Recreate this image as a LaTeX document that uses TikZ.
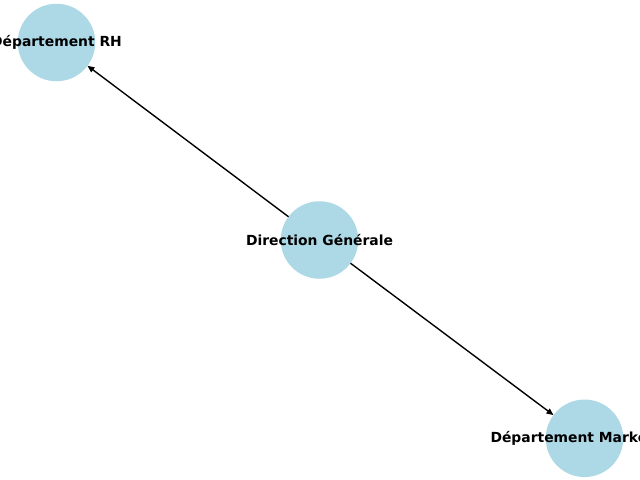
\documentclass[tikz,border=0pt]{standalone}
\usepackage{fontspec}
\setmainfont{DejaVu Sans}
\usetikzlibrary{arrows.meta}
\begin{document}
\begin{tikzpicture}[x=0.72pt,y=-0.72pt,
  vertex/.style={circle,fill={rgb,255:red,173;green,216;blue,230},draw=none,minimum size=77.5*0.72pt,inner sep=0pt,outer sep=0pt},
  lbl/.style={font=\bfseries\fontsize{10pt}{12pt}\selectfont,inner sep=0pt,text=black},
  edge/.style={draw=black,line width=1pt,-{Triangle[length=5pt,width=4.2pt]}}]
\useasboundingbox (0,0) rectangle (640,480);
\clip (0,0) rectangle (640,480);
\fill[white] (0,0) rectangle (640,480);
\node[vertex] (rh) at (56.5,42.5) {};
\node[vertex] (dg) at (319.5,240) {};
\node[vertex] (mk) at (584.5,438.3) {};
\draw[edge] (dg) -- (rh);
\draw[edge] (dg) -- (mk);
\node[lbl] (trh) at (rh) {Département RH};
\node[lbl] (tdg) at (dg) {Direction Générale};
\node[lbl] (tmk) at (mk) {Département Marketing};
\end{tikzpicture}
\end{document}
